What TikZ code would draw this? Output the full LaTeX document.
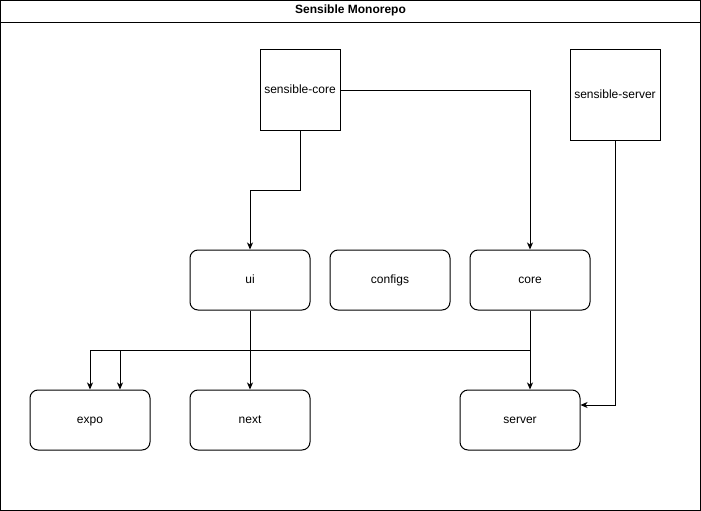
\documentclass[tikz,border=0pt]{standalone}
\usepackage{fontspec}
\setmainfont{Liberation Sans}
\usetikzlibrary{arrows.meta, positioning}

\begin{document}
\begin{tikzpicture}[
          x=1pt, y=-1pt,
          node distance=19pt,
          package/.style={rectangle, draw, line width=1pt, minimum width=80pt, minimum height=80pt, text height=8.6pt, text depth=2.6pt, font=\fontsize{12}{14}\selectfont},
          app/.style={rectangle, draw, line width=1pt, rounded corners=8pt, minimum width=120pt, minimum height=60pt, text height=8.6pt, text depth=2.6pt, font=\fontsize{12}{14}\selectfont},
          arrow/.style={-{Stealth[length=7pt, width=6pt, inset=2pt]}, line width=1pt}
        ]
          \useasboundingbox (0,0) rectangle (701,511);
          \node (frame) [draw, line width=1pt, minimum width=700pt, minimum height=510pt] at (350.5,255.5) {};
          \draw [line width=1pt] (frame.north west) ++(0,23) -- ++(700,0);
          \node (title) [below=5pt of frame.north, font=\bfseries\fontsize{12}{14}\selectfont, inner sep=0pt] {Sensible Monorepo};

          \node (score) [package] at (300,90) {sensible-core};
          \node (sserver) [package, minimum width=90pt, minimum height=90pt] at (615,95) {sensible-server};

          \node (ui) [app] at (250,280) {ui};
          \node (configs) [app, right=of ui] {configs};
          \node (core) [app, right=of configs] {core};

          \node (expo) [app] at (90,420) {expo};
          \node (next) [app, right=39pt of expo] {next};
          \node (server) [app] at (520,420) {server};

          \draw [arrow] (score.south) -- ++(0,60) -| (ui.north);
          \draw [arrow] (score.east) -| (core.north);
          \draw [arrow] (sserver.south) |- ([yshift=15pt]server.east);
          \draw [arrow] (ui) -- (next);
          \draw [arrow] (core.south) -- (core.south |- server.north);
          \draw [arrow] (core.south) -- ++(0,40) -| (expo.north);
          \draw [arrow] (ui.south) -- ++(0,40) -| ([xshift=30pt]expo.north);
        \end{tikzpicture}
\end{document}
